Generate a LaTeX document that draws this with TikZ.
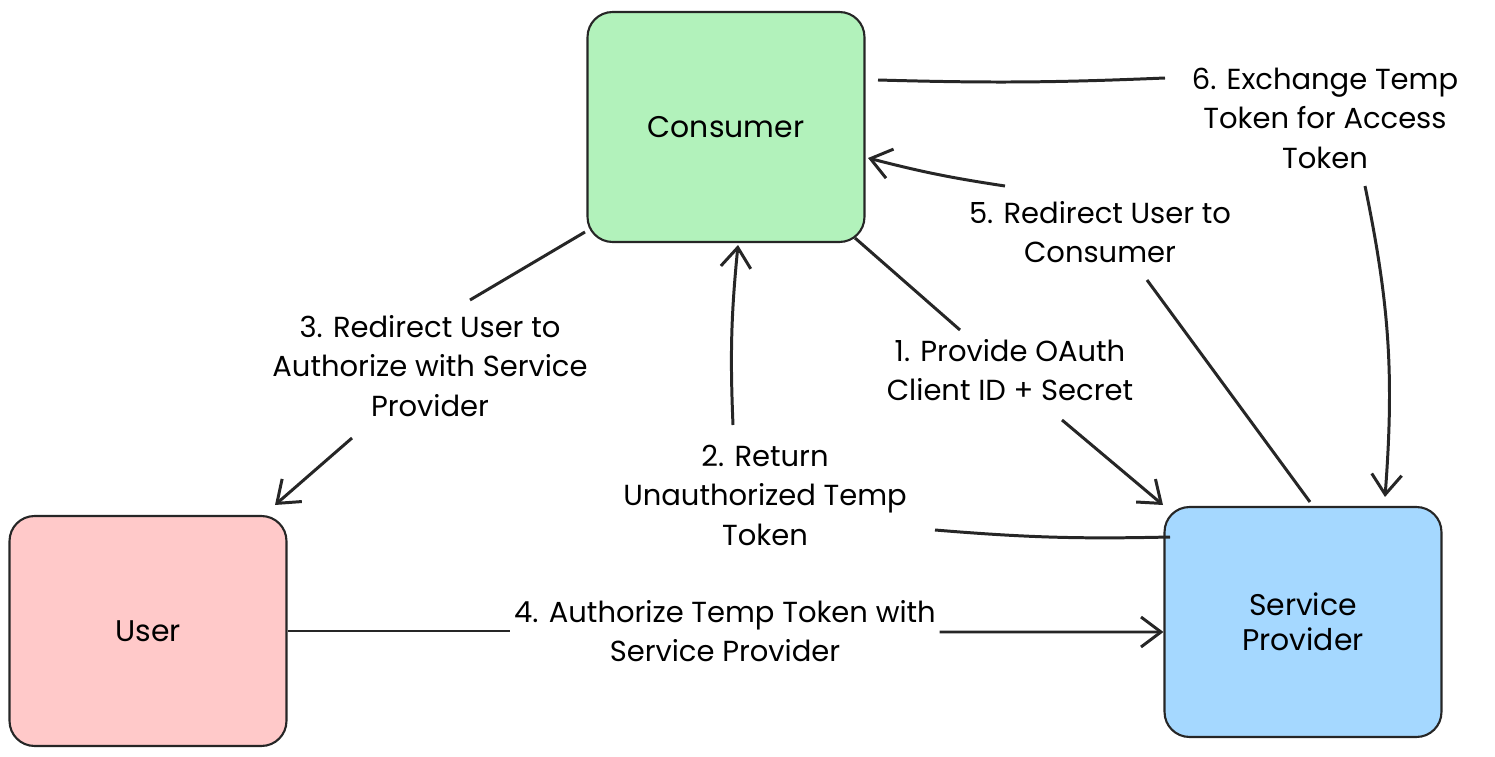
\documentclass[tikz,border=0pt]{standalone}
\usepackage{fontspec}
\setmainfont{Poppins}
\usetikzlibrary{positioning,arrows.meta,calc}

\tikzset{
  box/.style={draw=black!85, line width=1.2pt, rounded corners=0.5cm,
    minimum width=5.54cm, minimum height=4.6cm, font=\fontsize{17}{20}\selectfont, align=center},
  lab/.style={font=\fontsize{16.5}{22.5}\selectfont, align=center, inner sep=2pt},
  flow/.style={line width=1.7pt, black!85},
  tip/.style={flow, -{Straight Barb[length=4mm, width=6mm, line width=1.7pt]}}
}

\begin{document}
\begin{tikzpicture}[x=0.02cm, y=-0.02cm]
\useasboundingbox (0,0) rectangle (1495,757);

% actors
\node[box, fill={rgb,255:red,178;green,242;blue,187}] (cons) at (726,127) {Consumer};
\node[box, fill={rgb,255:red,255;green,201;blue,201}] (user) at (148,631) {User};
\node[box, fill={rgb,255:red,165;green,216;blue,255}] (prov) at (1303,622) {Service\\Provider};

% labels
\node[lab] (l1) at (1010,370) {1. Provide OAuth\\Client ID + Secret};
\node[lab] (l2) at (765,495) {2. Return\\Unauthorized Temp\\Token};
\node[lab] (l3) at (430,366) {3. Redirect User to\\Authorize with Service\\Provider};
\node[lab] (l4) at (725,631) {4. Authorize Temp Token with\\Service Provider};
\node[lab] (l5) at (1100,232) {5. Redirect User to\\Consumer};
\node[lab] (l6) at (1325,118) {6. Exchange Temp\\Token for Access\\Token};

% free ends
\coordinate (c1a) at (855,238);  \coordinate (c1b) at (960,330);
\coordinate (c1c) at (1062,420); \coordinate (c1d) at (1163,505);
\coordinate (c2a) at (1170,537); \coordinate (c2b) at (935,530);
\coordinate (c2c) at (733,425);  \coordinate (c2d) at (738,245);
\coordinate (c3a) at (585,232);  \coordinate (c3b) at (470,300);
\coordinate (c3c) at (352,438);  \coordinate (c3d) at (275,505);
\coordinate (c5a) at (1310,502); \coordinate (c5b) at (1147,280);
\coordinate (c5c) at (1005,186); \coordinate (c5d) at (868,158);
\coordinate (c6a) at (878,80);   \coordinate (c6b) at (1165,78);
\coordinate (c6c) at (1365,186); \coordinate (c6d) at (1385,497);

% flows
\draw[flow] (c1a) -- (c1b);
\draw[tip] (c1c) -- (c1d);
\draw[flow] (c2a) to[bend left=3] (c2b);
\draw[tip] (c2c) to[bend left=4] (c2d);
\draw[flow] (c3a) -- (c3b);
\draw[tip] (c3c) -- (c3d);
\draw[flow] (user.east) -- (l4.west |- user.east);
\draw[tip] (l4.east |- prov.west) ++(0,10) -- ([yshift=-0.2cm]prov.west);
\draw[flow] (c5a) -- (c5b);
\draw[tip] (c5c) to[bend left=3] (c5d);
\draw[flow] (c6a) to[bend right=2] (c6b);
\draw[tip] (c6c) to[bend left=8] (c6d);

\end{tikzpicture}
\end{document}
